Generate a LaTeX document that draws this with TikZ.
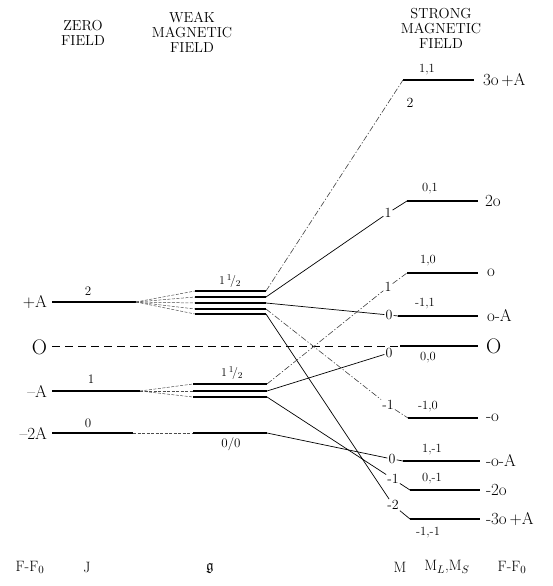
\documentclass[tikz,border=0pt]{standalone}
\usepackage{amsfonts}
\begin{document}
\begin{tikzpicture}[x=1pt,y=-1pt,
  every node/.style={inner sep=0.8pt},
  hdr/.style={font=\fontsize{14.5}{15}\selectfont, align=center},
  elbl/.style={font=\fontsize{17}{17}\selectfont},
  biglbl/.style={font=\fontsize{21}{21}\selectfont},
  jlbl/.style={font=\fontsize{13}{13}\selectfont},
  qlbl/.style={font=\fontsize{12.5}{12.5}\selectfont},
  mlbl/.style={font=\fontsize{14}{14}\selectfont, inner sep=1pt},
  axlbl/.style={font=\fontsize{15}{15}\selectfont},
  zerolvl/.style={line width=1.2pt},
  weaklvl/.style={line width=1.8pt},
  stronglvl/.style={line width=1.2pt},
  fanline/.style={line width=0.5pt, dash pattern=on 3pt off 1.5pt, black!70},
  link/.style={line width=0.7pt},
  dlink/.style={line width=0.6pt, black!75, dash pattern=on 6pt off 2pt on 1.2pt off 2pt},
  zeroline/.style={line width=0.9pt, dash pattern=on 8pt off 5pt},
]
\useasboundingbox (0,0) rectangle (552,586);

% column headings
\node[hdr] (hzero) at (83,33) {ZERO\\FIELD};
\node[hdr] (hweak) at (192,32) {WEAK\\MAGNETIC\\FIELD};
\node[hdr] (hstrong) at (441,28) {STRONG\\MAGNETIC\\FIELD};

% zero-field energies
\node[elbl, anchor=east] (Ep) at (48,302) {+A};
\node[biglbl, anchor=east] (E0) at (48,347) {O};
\node[elbl, anchor=east] (Em) at (48,391) {--A};
\node[elbl, anchor=east] (Em2) at (48,433) {--2A};

% J values
\node[jlbl] (J2) at (88,291) {2};
\node[jlbl] (J1) at (91,379) {1};
\node[jlbl] (J0) at (88,423) {0};

% J = 2 level and its five Zeeman components
\coordinate (zA) at (52,302);
\coordinate (cA) at (136,302);
\draw[zerolvl] (zA) -- (cA);
\foreach \i/\yy in {1/291,2/297,3/303,4/309,5/314}{
  \coordinate (a\i) at (195,\yy);
  \coordinate (b\i) at (266,\yy);
  \draw[fanline] (cA) -- (a\i);
  \draw[weaklvl] (a\i) -- (b\i);
}

% J = 1 level and its three components
\coordinate (zB) at (52,391);
\coordinate (cB) at (140,391);
\draw[zerolvl] (zB) -- (cB);
\foreach \i/\yy in {1/384,2/391,3/397}{
  \coordinate (d\i) at (193,\yy);
  \coordinate (c\i) at (267,\yy);
  \draw[fanline] (cB) -- (d\i);
  \draw[weaklvl] (d\i) -- (c\i);
}

% J = 0 level
\coordinate (zC) at (52,433);
\coordinate (cC) at (133,433);
\coordinate (aC) at (193,433);
\coordinate (bC) at (267,433);
\draw[zerolvl] (zC) -- (cC);
\draw[fanline] (cC) -- (aC);
\draw[zerolvl] (aC) -- (bC);

% Lande factors
\node[jlbl] (g2) at (230,281) {$1\,{}^1\!/{}_2$};
\node[jlbl] (g1) at (232,373) {$1\,{}^1\!/{}_2$};
\node[jlbl] (g0) at (231,444) {0/0};

% zero of energy
\coordinate (zO) at (52,346);
\coordinate (s00) at (400,346);
\coordinate (e00) at (478,346);
\draw[zeroline] (zO) -- (s00);
\draw[stronglvl] (s00) -- (e00);

% strong-field levels (start / end)
\coordinate (s11) at (403,80);   \coordinate (e11) at (474,80);
\coordinate (s01) at (407,201);  \coordinate (e01) at (478,201);
\coordinate (s10) at (407,273);  \coordinate (e10) at (478,273);
\coordinate (sm11) at (398,316); \coordinate (em11) at (478,316);
\coordinate (sm10) at (408,418); \coordinate (em10) at (478,418);
\coordinate (s1m1) at (403,461); \coordinate (e1m1) at (480,461);
\coordinate (s0m1) at (410,490); \coordinate (e0m1) at (480,490);
\coordinate (sm1m1) at (410,519);\coordinate (em1m1) at (480,519);
\foreach \p in {11,01,10,m11,m10,1m1,0m1,m1m1}{
  \draw[stronglvl] (s\p) -- (e\p);
}

% M values on the connecting lines
\node[mlbl] (M2) at (410,103) {2};
\node[mlbl] (M1a) at (388,213) {1};
\node[mlbl] (M1b) at (388,287) {1};
\node[mlbl] (M0a) at (389,315) {0};
\node[mlbl] (M0b) at (389,353) {0};
\node[mlbl] (Mm1a) at (388,405) {-1};
\node[mlbl] (M0c) at (392,459) {0};
\node[mlbl] (Mm1b) at (393,479) {-1};
\node[mlbl] (Mm2) at (393,505) {-2};

% weak-field components joined to strong-field levels
\draw[dlink] (b1) -- (s11);
\draw[link]  (b2) -- (M1a) -- (s01);
\draw[link]  (b3) -- (M0a) -- (sm11);
\draw[dlink] (b4) -- (Mm1a) -- (sm10);
\draw[link]  (b5) -- (Mm2) -- (sm1m1);
\draw[dlink] (c1) -- (M1b) -- (s10);
\draw[link]  (c2) -- (M0b);
\draw[link]  (c3) -- (Mm1b) -- (s0m1);
\draw[link]  (bC) -- (M0c) -- (s1m1);

% M_L, M_S labels
\node[qlbl] (q11) at (427,70) {1,1};
\node[qlbl] (q01) at (430,189) {0,1};
\node[qlbl] (q10) at (428,261) {1,0};
\node[qlbl] (qm11) at (425,304) {-1,1};
\node[qlbl] (q00) at (428,358) {0,0};
\node[qlbl] (qm10) at (428,407) {-1,0};
\node[qlbl] (q1m1) at (432,450) {1,-1};
\node[qlbl] (q0m1) at (432,479) {0,-1};
\node[qlbl] (qm1m1) at (428,533) {-1,-1};

% strong-field energies
\node[elbl, anchor=west] (f11) at (482,80) {3o\,+A};
\node[elbl, anchor=west] (f01) at (484,201) {2o};
\node[elbl, anchor=west] (f10) at (486,273) {o};
\node[elbl, anchor=west] (fm11) at (486,316) {o-A};
\node[biglbl, anchor=west] (f00) at (485,346) {O};
\node[elbl, anchor=west] (fm10) at (485,418) {-o};
\node[elbl, anchor=west] (f1m1) at (485,461) {-o-A};
\node[elbl, anchor=west] (f0m1) at (485,490) {-2o};
\node[elbl, anchor=west] (fm1m1) at (485,519) {-3o\,+A};

% quantities tabulated in each column
\node[axlbl] (bF) at (30,567) {F-F$_0$};
\node[axlbl] (bJ) at (87,567) {J};
\node[axlbl] (bg) at (210,568) {$\mathfrak{g}$};
\node[axlbl] (bM) at (400,567) {M};
\node[axlbl] (bML) at (447,567) {M$_L$,M$_S$};
\node[axlbl] (bF2) at (512,567) {F-F$_0$};
\end{tikzpicture}
\end{document}
